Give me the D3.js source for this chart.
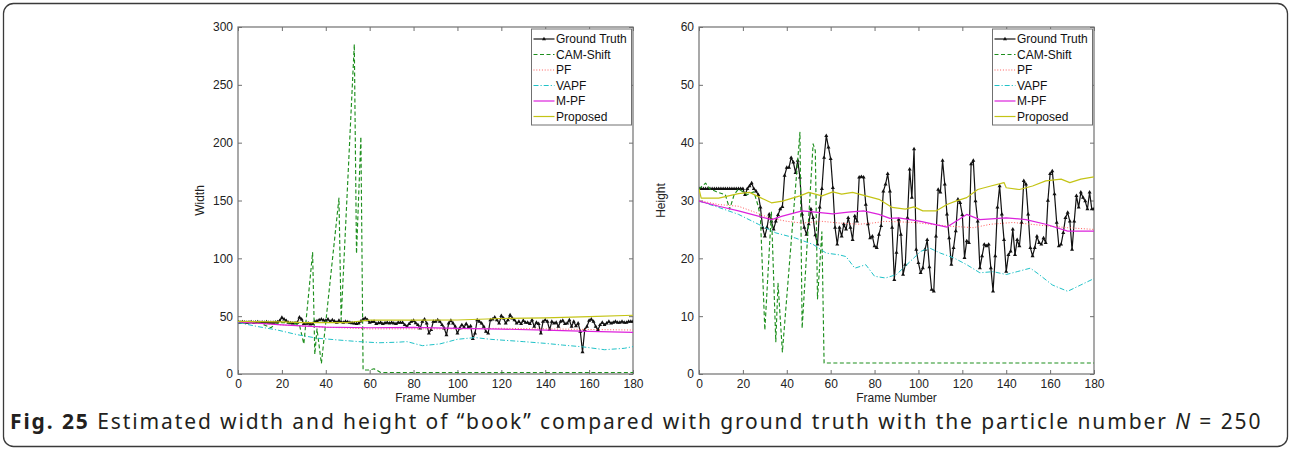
<!DOCTYPE html>
<html>
<head>
<meta charset="utf-8">
<script src="https://cdn.jsdelivr.net/npm/d3@7"></script>
<style>
  body { margin: 0; background: #fff; }
  svg { display: block; }
</style>
</head>
<body>
<svg id="fig" width="1291" height="450"></svg>
<script>
// ---------------- data ----------------
const xTicks = [0, 20, 40, 60, 80, 100, 120, 140, 160, 180];
const widthTicks = [0, 50, 100, 150, 200, 250, 300];
const heightTicks = [0, 10, 20, 30, 40, 50, 60];
const seriesNames = ["Ground Truth", "CAM-Shift", "PF", "VAPF", "M-PF", "Proposed"];

// ground truth, one value per frame 0..180
const widthTruth = [
  45,44.5,45,44.7,44.5,44.7,45,44.5,44.7,45,
  44.5,44.7,44.5,44.8,44.5,44.4,44.4,44.6,45,46,
  48.7,47.3,46,44.4,44,43.8,44,44.4,49,47.3,
  43.3,43.5,43.8,43,43.3,45.3,45.8,46.7,47.3,46.5,
  46.1,47.3,45.3,46.7,45.5,44.4,46.1,45,44.4,45.3,
  44.8,44.4,44,43.8,43.3,43.8,45.5,47.3,48.2,46.7,
  44.4,45,45.3,43.3,44,44.4,43.3,44,44.4,43.8,
  44.4,43.8,43.3,44.5,44.4,44.4,42.4,41,43.3,45.3,
  46.1,44,42.4,39.5,45.3,47.3,43.8,35.2,38.1,45.3,
  45.3,46.7,45.3,42.4,39.5,33.7,43.8,46.1,43.8,40.9,
  35.2,39.5,42.4,40.4,43.3,40.4,41.5,30.5,35.2,46.7,
  45.3,43.8,41,36.6,35.2,46.7,47.3,49,46.7,43.8,
  50.2,48.2,43.8,46.7,51,48.2,46.7,43.8,45.3,43.3,
  46.1,44.4,44.4,43.3,46.7,41,44.4,43.3,35.2,45.3,
  46.7,45.3,38.1,45.3,43.8,44.4,41,45.3,46.1,43.3,
  43.8,46.7,41,45.3,41.5,43.8,36.6,19,38.1,41,
  46.1,47.3,45.3,41,38,42.4,44.4,42.4,43.8,45.3,
  43.8,44.4,45.3,44.4,44.4,45.3,44.4,44.4,45.3,45.3,
  45.3
];
const heightTruth = [
  32,32,32,32,32,32,32,32,32,32,
  32,32,32,32,32,32,32,32,32,32,
  32,31,32,32.5,33,32,31.6,31,28.8,25.3,
  23.8,25.3,27.6,26.4,25,26.4,27.5,28.5,28.9,34.3,
  35.7,35.7,37.4,36.6,34.8,36.9,34,27.6,25.3,24.1,
  25.9,28.5,27,24,22.4,28.8,32,37.4,41.2,39.2,
  37.2,32.2,25.3,22.4,25.3,23.8,25.9,25,27,25.3,
  23.2,27.3,26.4,34,34.1,34,29.3,25.9,23.5,23.8,
  22.1,21.8,24.1,25.6,31.6,32.8,34.6,31.6,25.3,16.3,
  21,26.7,24.1,17.2,18.9,27,35.4,30.5,38.9,21.5,
  19.2,17.5,18.3,21.5,23.2,18.5,14.6,14.3,23.8,31.9,
  31.4,36.9,32.8,27.6,23.5,18.9,21.8,24.7,30.2,29.6,
  27.5,20.1,23,22.7,36.3,36.9,29.9,26.4,18.3,20.4,
  22.4,22.1,22.4,18.3,14.3,20.4,28.8,32.5,27.6,23.2,
  17.7,20.6,21.2,25,20.6,23.2,22.1,26.2,33.4,32.8,
  27.6,21.8,20.4,21.8,23.8,22.7,22.4,23.5,22.7,30,
  34.6,35.1,31.1,26.2,22.1,22.4,24.4,27,27.9,26.4,
  21.5,26.4,30.8,28.8,31.4,30.5,29.9,28.5,31.4,28.5,
  28.5
];

// tracker estimates: frame / value pairs
const widthCamFrames = [0,5,10,15,17,20,25,28,30,34,35,36,38,46,47,53,54,56,57,60,62,63,65,180];
const widthCamValues = [45.5,45,44,40,43,44.5,44,42.5,26,105,17,39,9,152,47,285,104,205,3.5,3.5,4.5,3.5,1.3,1.3];
const widthPfFrames = [0,20,40,60,80,100,120,140,160,180];
const widthPfValues = [45,42.5,40.5,39,39,39,39.5,39,38.5,38];
const widthVapfFrames = [0,9,18,27,36,45,55,64,73,77,84,92,100,108,115,130,140,148,157,167,176,180];
const widthVapfValues = [44.5,41,38,34,31,29.5,28,27,27.5,28,24.5,26,30,31.5,30,28,26.5,25,23.5,21,22.2,23.7];
const widthMpfFrames = [0,20,40,60,80,100,120,140,160,180];
const widthMpfValues = [45,42.5,40.5,40,40.3,39.5,38.8,38,36.8,36];
const widthPropFrames = [0,20,30,50,60,80,100,120,140,160,180];
const widthPropValues = [45.5,45,44.5,44.5,46.5,46.5,46.7,48,48.5,49.6,50.8];

const heightCamFrames = [0,3,5,8,12,14,16,18,22,25,27,28,30,33,35,36,38,46,47,52,53,54,56,57,180];
const heightCamValues = [32,33,32,31.5,31,28.5,31,32,31,31.5,29,27,7.6,28,5.6,15.7,3.8,41.8,7.9,39.8,38.6,13,24.6,1.9,1.9];
const heightPfFrames = [0,9,18,26,32,40,47,56,64,73,79,85,98,113,125,133,143,151,159,168,180];
const heightPfValues = [30,29.3,29,27.9,27,26.4,26.1,26.4,26.1,25.9,26.1,26.4,26.2,25.6,25.3,25.9,26.2,25.9,25.6,25.3,25];
const heightVapfFrames = [0,9,18,27,35,44,52,58,64,67,71,76,80,85,90,98,101,105,110,116,122,128,134,140,145,151,155,161,168,174,180];
const heightVapfValues = [29.9,28.8,27.6,25.9,24.4,23.5,22.4,20.9,20.6,20.3,18.3,18.9,16.9,16.6,17.2,20.1,21.2,21.8,20.9,20.1,18.9,17.5,17.7,17.2,17.7,18.3,17.2,15.4,14.3,15.4,16.5];
const heightMpfFrames = [0,9,18,27,33,38,47,53,61,68,75,82,87,91,101,113,122,128,140,149,158,168,180];
const heightMpfValues = [29.9,29,28.2,27.3,26.7,27.3,28.2,28,27.7,28,28.2,27.6,26.9,27,26.4,25.4,27.6,26.7,27,26.7,25.9,24.7,24.7];
const heightPropFrames = [0,1,9,18,23,28,33,38,46,50,56,61,65,70,76,82,88,94,98,102,108,113,117,122,127,133,139,140,146,152,158,165,169,174,180];
const heightPropValues = [32,30.4,30.4,31.2,31.4,30.5,29.6,29.9,30.8,31.4,30.8,31.5,31.1,31.4,30.8,30.2,28.8,28.5,28.9,28.2,28.2,29.3,29.9,30.5,31.9,32.5,33.1,32.2,31.9,32.5,33.4,33.7,33.1,33.7,34.1];

// ---------------- styles ----------------
const styles = {
  "Ground Truth": { color: "#111", width: 1.2, dash: null },
  "CAM-Shift":    { color: "#1e8f1e", width: 1.15, dash: "4,2.5" },
  "PF":           { color: "#ff5c5c", width: 1, dash: "1,1.8" },
  "VAPF":         { color: "#20c2c8", width: 1, dash: "5,2,1.2,2" },
  "M-PF":         { color: "#dc22dc", width: 1.2, dash: null },
  "Proposed":     { color: "#c4c416", width: 1.2, dash: null }
};

const svg = d3.select("#fig");
const FONT = "'Liberation Sans', Arial, Helvetica, sans-serif";
const TOP = 27, BOTTOM = 374;

function panel(p) {
  const x = d3.scaleLinear().domain([0, 180]).range([p.left, p.right]);
  const y = d3.scaleLinear().domain([0, p.yMax]).range([BOTTOM, TOP]);
  const g = svg.append("g");

  svg.append("clipPath").attr("id", "clip-" + p.id)
    .append("rect").attr("x", p.left).attr("y", TOP)
    .attr("width", p.right - p.left).attr("height", BOTTOM - TOP);

  const styleAxis = sel => {
    sel.select(".domain").remove();
    sel.selectAll(".tick line").attr("stroke", "#707070").attr("stroke-width", 1);
    sel.selectAll("text").attr("fill", "#222").style("font-family", FONT).style("font-size", "12px");
  };

  g.append("g").attr("transform", `translate(0,${BOTTOM})`)
    .call(d3.axisBottom(x).tickValues(xTicks).tickSize(-4).tickPadding(5).tickSizeOuter(0))
    .call(styleAxis);
  g.append("g").attr("transform", `translate(0,${TOP})`)
    .call(d3.axisTop(x).tickValues(xTicks).tickSize(-4).tickFormat("").tickSizeOuter(0))
    .call(styleAxis);
  g.append("g").attr("transform", `translate(${p.left},0)`)
    .call(d3.axisLeft(y).tickValues(p.yTicks).tickSize(-4).tickPadding(5).tickSizeOuter(0))
    .call(styleAxis);
  g.append("g").attr("transform", `translate(${p.right},0)`)
    .call(d3.axisRight(y).tickValues(p.yTicks).tickSize(-4).tickFormat("").tickSizeOuter(0))
    .call(styleAxis);

  g.append("rect").attr("x", p.left).attr("y", TOP)
    .attr("width", p.right - p.left).attr("height", BOTTOM - TOP)
    .attr("fill", "none").attr("stroke", "#707070").attr("stroke-width", 1.2);

  g.append("text").attr("x", (p.left + p.right) / 2).attr("y", 402)
    .attr("text-anchor", "middle").attr("fill", "#222")
    .style("font-family", FONT).style("font-size", "12px").text("Frame Number");
  g.append("text").attr("transform", `translate(${p.left - 34},${(TOP + BOTTOM) / 2}) rotate(-90)`)
    .attr("text-anchor", "middle").attr("fill", "#222")
    .style("font-family", FONT).style("font-size", "12px").text(p.yLabel);

  const line = d3.line().x(d => x(d[0])).y(d => y(d[1]));
  const plot = g.append("g").attr("clip-path", `url(#clip-${p.id})`);

  p.series.forEach(s => {
    const st = styles[s.name];
    const pts = d3.zip(s.frames, s.values);
    plot.append("path").datum(pts).attr("d", line)
      .attr("fill", "none").attr("stroke", st.color).attr("stroke-width", st.width)
      .attr("stroke-dasharray", st.dash).attr("stroke-linejoin", "round");
    if (s.name === "Ground Truth") {
      plot.selectAll(null).data(pts).join("path")
        .attr("transform", d => `translate(${x(d[0])},${y(d[1])})`)
        .attr("d", d3.symbol().type(d3.symbolTriangle).size(7))
        .attr("fill", st.color);
    }
  });

  // legend
  const lx = p.right - 101.5, ly = 29, lw = 100, lh = 96;
  const leg = g.append("g");
  leg.append("rect").attr("x", lx).attr("y", ly).attr("width", lw).attr("height", lh)
    .attr("fill", "#fff").attr("stroke", "#707070").attr("stroke-width", 1);
  seriesNames.forEach((name, i) => {
    const st = styles[name];
    const cy = ly + 10 + i * 15.5;
    leg.append("line").attr("x1", lx + 2).attr("x2", lx + 23).attr("y1", cy).attr("y2", cy)
      .attr("stroke", st.color).attr("stroke-width", st.width).attr("stroke-dasharray", st.dash);
    if (name === "Ground Truth") {
      leg.append("path").attr("transform", `translate(${lx + 12.5},${cy})`)
        .attr("d", d3.symbol().type(d3.symbolTriangle).size(7)).attr("fill", st.color);
    }
    leg.append("text").attr("x", lx + 24.5).attr("y", cy).attr("dy", "0.36em")
      .attr("fill", "#111").style("font-family", FONT).style("font-size", "12px").text(name);
  });
}

const frames = d3.range(0, 181);

panel({
  id: "w", left: 238, right: 633, yMax: 300, yTicks: widthTicks, yLabel: "Width",
  series: [
    { name: "Ground Truth", frames: frames, values: widthTruth },
    { name: "CAM-Shift", frames: widthCamFrames, values: widthCamValues },
    { name: "PF", frames: widthPfFrames, values: widthPfValues },
    { name: "VAPF", frames: widthVapfFrames, values: widthVapfValues },
    { name: "M-PF", frames: widthMpfFrames, values: widthMpfValues },
    { name: "Proposed", frames: widthPropFrames, values: widthPropValues }
  ]
});

panel({
  id: "h", left: 699, right: 1094, yMax: 60, yTicks: heightTicks, yLabel: "Height",
  series: [
    { name: "Ground Truth", frames: frames, values: heightTruth },
    { name: "CAM-Shift", frames: heightCamFrames, values: heightCamValues },
    { name: "PF", frames: heightPfFrames, values: heightPfValues },
    { name: "VAPF", frames: heightVapfFrames, values: heightVapfValues },
    { name: "M-PF", frames: heightMpfFrames, values: heightMpfValues },
    { name: "Proposed", frames: heightPropFrames, values: heightPropValues }
  ]
});

// figure frame
svg.append("rect").attr("x", 3.5).attr("y", 3.5).attr("width", 1284).attr("height", 443)
  .attr("rx", 10).attr("fill", "none").attr("stroke", "#3a3a3a").attr("stroke-width", 1.3);

// caption, stretched by letter spacing to span the figure width
const cap = svg.append("text").attr("x", 10).attr("y", 429).attr("fill", "#231f20")
  .style("font-family", "'Noto Sans', 'Open Sans', sans-serif").style("font-size", "21px");
cap.append("tspan").attr("font-weight", "bold").text("Fig. 25");
cap.append("tspan").text(" Estimated width and height of \u201cbook\u201d compared with ground truth with the particle number ");
cap.append("tspan").attr("font-style", "italic").text("N");
cap.append("tspan").text(" = 250");
const capW = cap.node().getComputedTextLength();
const nChars = cap.text().length;
const spacing = Math.max(0, Math.min(3, (1252 - capW) / nChars));
cap.style("letter-spacing", spacing.toFixed(2) + "px");
</script>
</body>
</html>
